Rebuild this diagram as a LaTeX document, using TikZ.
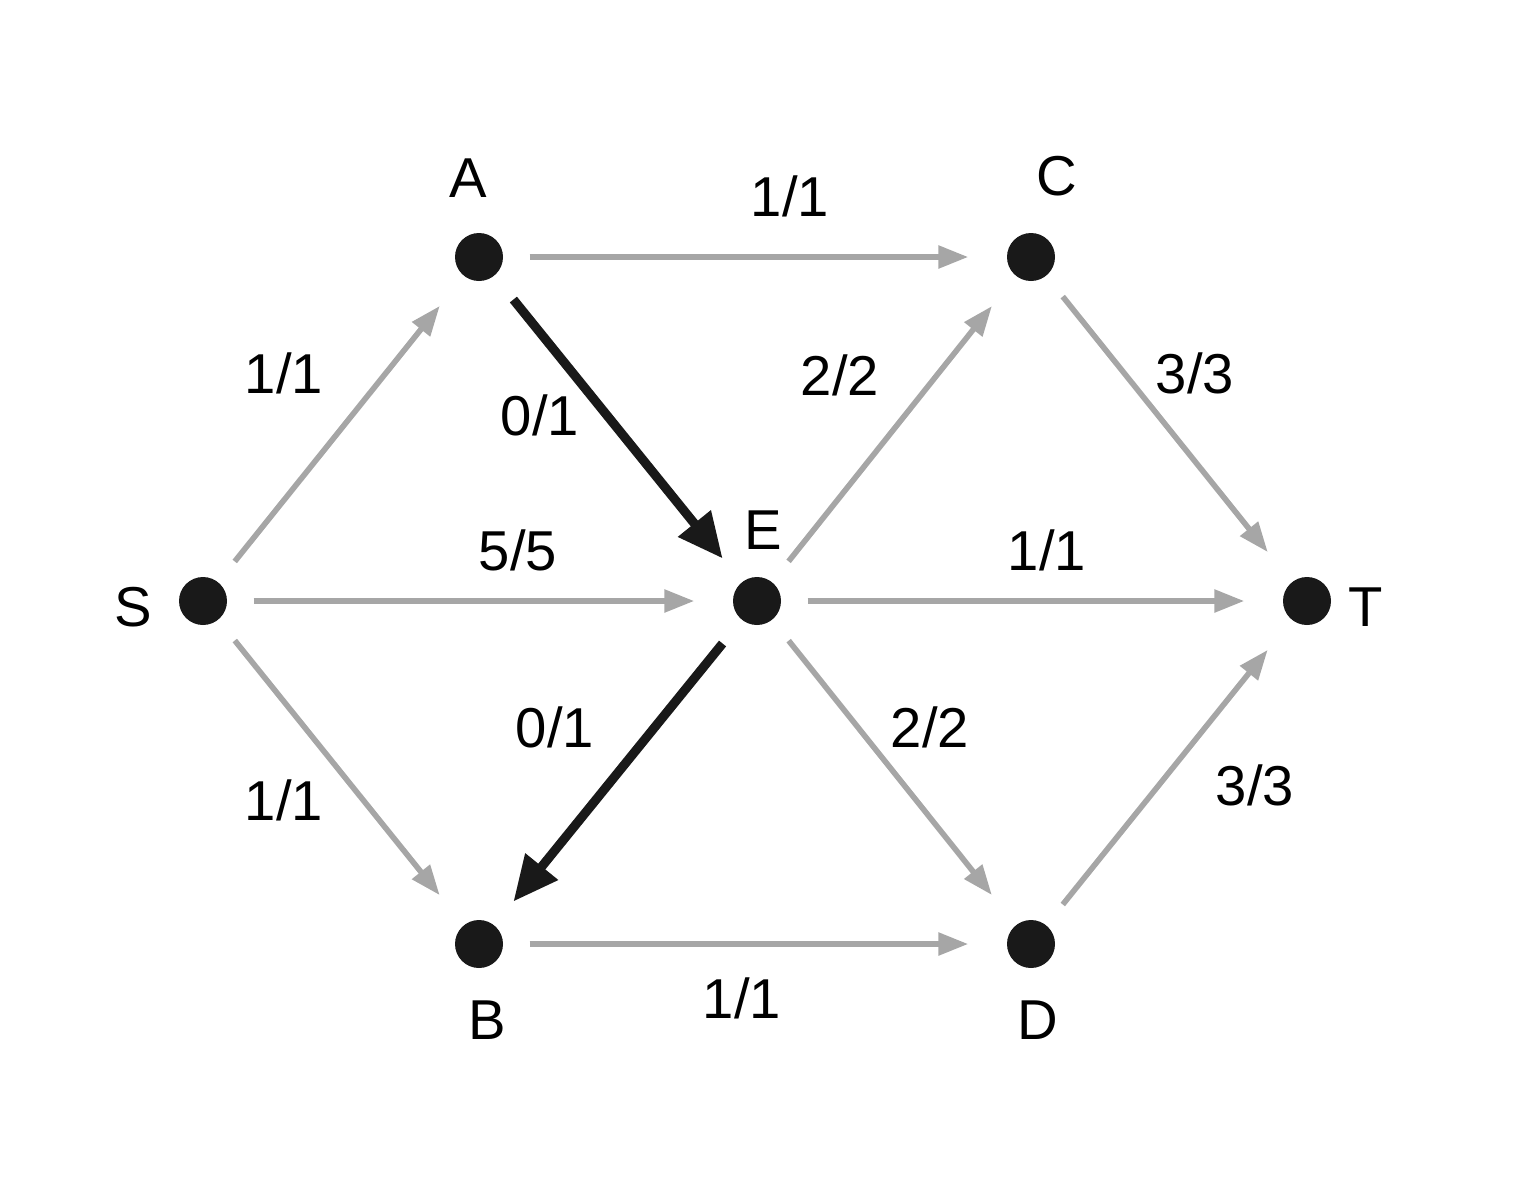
\documentclass[tikz,border=0pt]{standalone}
\usepackage{fontspec}
\setmainfont{Liberation Sans}
\usetikzlibrary{arrows.meta}

\tikzset{
    vertex/.style={circle, fill=black!90, inner sep=0pt, minimum size=0.48cm},
    flow/.style={draw=black!35, line width=1.6pt, -{Triangle[length=0.3cm,width=0.22cm]}, shorten <=0.26cm, shorten >=0.38cm},
    back/.style={draw=black!90, line width=2.6pt, -{Triangle[length=0.45cm,width=0.4cm]}, shorten <=0.3cm, shorten >=0.3cm},
    lbl/.style={font=\fontsize{16}{18}\selectfont}
}

\begin{document}
\begin{tikzpicture}[y=-1cm]
    \useasboundingbox (0,0) rectangle (15.30,11.77);

    % Vertices
    \node[vertex] (S) at (2.03,6.01) {};
    \node[vertex] (A) at (4.79,2.57) {};
    \node[vertex] (C) at (10.31,2.57) {};
    \node[vertex] (E) at (7.57,6.01) {};
    \node[vertex] (T) at (13.07,6.01) {};
    \node[vertex] (B) at (4.79,9.44) {};
    \node[vertex] (D) at (10.31,9.44) {};

    % Vertex names
    \node[lbl] at (1.33,6.07) {S};
    \node[lbl] at (4.68,1.78) {A};
    \node[lbl] at (10.57,1.76) {C};
    \node[lbl] at (7.63,5.30) {E};
    \node[lbl] at (13.66,6.07) {T};
    \node[lbl] at (4.87,10.20) {B};
    \node[lbl] at (10.38,10.20) {D};

    % Edges
    \draw[flow] (S) -- (A);
    \draw[flow] (S) -- (B);
    \draw[flow] (S) -- (E);
    \draw[flow] (A) -- (C);
    \draw[flow] (E) -- (C);
    \draw[flow] (E) -- (T);
    \draw[flow] (E) -- (D);
    \draw[flow] (C) -- (T);
    \draw[flow] (D) -- (T);
    \draw[flow] (B) -- (D);
    \draw[back] (A) -- (E);
    \draw[back] (E) -- (B);

    % Edge labels
    \node[lbl] at (2.84,3.73) {1/1};
    \node[lbl] at (2.84,8.00) {1/1};
    \node[lbl] at (5.18,5.50) {5/5};
    \node[lbl] at (7.90,1.96) {1/1};
    \node[lbl] at (5.40,4.15) {0/1};
    \node[lbl] at (5.55,7.27) {0/1};
    \node[lbl] at (8.40,3.75) {2/2};
    \node[lbl] at (10.47,5.50) {1/1};
    \node[lbl] at (9.30,7.27) {2/2};
    \node[lbl] at (11.95,3.73) {3/3};
    \node[lbl] at (12.55,7.85) {3/3};
    \node[lbl] at (7.42,9.98) {1/1};
\end{tikzpicture}
\end{document}
